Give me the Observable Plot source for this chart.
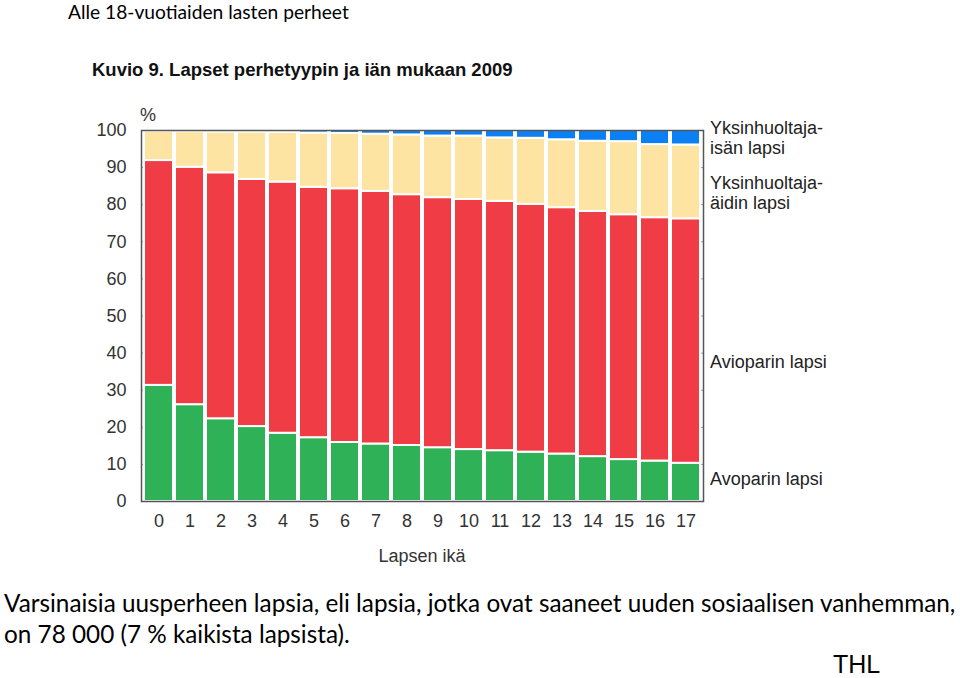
<!DOCTYPE html>
<html><head><meta charset="utf-8">
<script src="https://cdn.jsdelivr.net/npm/d3@7"></script>
<script src="https://cdn.jsdelivr.net/npm/@observablehq/plot@0.6"></script>
<style>
html,body{margin:0;padding:0;background:#fff;overflow:hidden;width:960px;height:678px}
#chart{position:relative;width:960px;height:678px}
</style></head><body>
<div id="chart"></div>
<script>
// ---- data (share of children, %, by age) ----
const ages = [0,1,2,3,4,5,6,7,8,9,10,11,12,13,14,15,16,17];
const avoparin  = [31.3,26.1,22.3,20.2,18.4,17.2,15.9,15.5,15.1,14.5,14.0,13.7,13.3,12.8,12.1,11.3,10.9,10.3];
const avioparin = [60.6,64.0,66.3,66.6,67.7,67.5,68.4,68.1,67.6,67.4,67.4,67.2,66.8,66.4,66.1,66.0,65.6,65.9];
const aidin     = [7.9,9.6,11.0,12.8,13.4,14.6,14.9,15.4,16.1,16.6,17.1,17.1,17.8,18.3,18.9,19.7,19.7,19.9];
const isan      = [0.2,0.3,0.4,0.4,0.5,0.7,0.8,1.0,1.2,1.5,1.5,2.0,2.1,2.5,2.9,3.0,3.8,3.9];
const seriesNames = ["Avoparin lapsi","Avioparin lapsi","Yksinhuoltaja-\näidin lapsi","Yksinhuoltaja-\nisän lapsi"];
const seriesValues = [avoparin, avioparin, aidin, isan];
const seriesColors = ["#2fb257","#f03c44","#fde4a2","#0b80f4"];
const yTicks = [0,10,20,30,40,50,60,70,80,90,100];
const labelDy = [-4, 21, 11, 0];

const rows = seriesNames.flatMap((s, si) => ages.map((a, i) => ({age: a, series: s, value: seriesValues[si][i]})));

const font = "'Liberation Sans', Arial, sans-serif";
const lastAge = ages[ages.length - 1];

// one label per series, at the stacked middle of the last bar's segment
const labelMarks = seriesNames.map((s, si) =>
  Plot.text(rows, Plot.stackY({x: "age", y: "value", z: "series", order: seriesNames,
      text: d => (d.series === s && d.age === lastAge) ? d.series : null,
      textAnchor: "start", dx: 24, dy: labelDy[si], lineHeight: 1.1,
      fontSize: 18, fill: "#222"}))
);

const plot = Plot.plot({
  width: 960, height: 678,
  marginLeft: 141, marginRight: 257, marginTop: 130, marginBottom: 177,
  style: {fontFamily: font, fontSize: "18px", color: "#222", background: "transparent", overflow: "visible"},
  x: {domain: ages, padding: 0.05},
  y: {domain: [0, 100]},
  color: {domain: seriesNames, range: seriesColors},
  marks: [
    Plot.gridY(yTicks, {stroke: "#777", strokeOpacity: 0.7}),
    Plot.barY(rows, {x: "age", y: "value", fill: "series", order: seriesNames, stroke: "white", strokeWidth: 2}),
    Plot.frame({stroke: "#555", strokeWidth: 1.5}),
    Plot.axisY({ticks: yTicks, tickSize: 0, tickPadding: 15, label: null, fontSize: 18, fill: "#333"}),
    Plot.axisX({tickSize: 0, tickPadding: 13, label: null, fontSize: 18, fill: "#333"}),
    ...labelMarks
  ]
});
document.getElementById("chart").appendChild(plot);

// ---- page & chart texts ----
const svg = d3.select(plot);
const addText = (txt, x, y, f, size, weight, fill, anchor) =>
  svg.append("text").attr("x", x).attr("y", y).attr("font-family", f).attr("font-size", size)
     .attr("font-weight", weight || "normal").attr("fill", fill || "#000")
     .attr("text-anchor", anchor || "start").text(txt);

const body = "Lato, Carlito, 'Open Sans', sans-serif";
addText("Alle 18-vuotiaiden lasten perheet", 68, 19, body, 19.2);
addText("Kuvio 9. Lapset perhetyypin ja iän mukaan 2009", 92, 76, font, 18.5, "bold", "#111");
addText("%", 140, 121, font, 18, "normal", "#333");
addText("Lapsen ikä", (141 + 703) / 2, 562, font, 18, "normal", "#333", "middle");
addText("Varsinaisia uusperheen lapsia, eli lapsia, jotka ovat saaneet uuden sosiaalisen vanhemman,", 4, 612, body, 24.3);
addText("on 78 000 (7 % kaikista lapsista).", 4, 643, body, 24.3);
addText("THL", 833, 673, font, 25);
</script>
</body></html>
